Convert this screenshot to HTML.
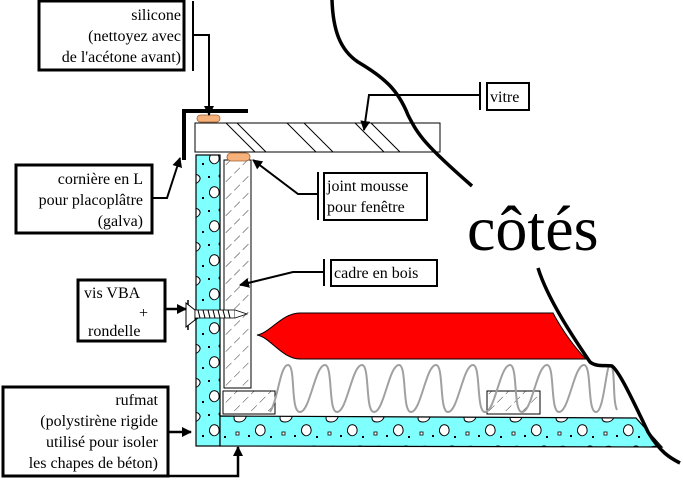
<!DOCTYPE html>
<html><head><meta charset="utf-8"><style>
html,body{margin:0;padding:0;background:#fff;}
svg{display:block;}
.t{font-family:"Times New Roman","Liberation Serif","DejaVu Serif",serif;fill:#000;}
</style></head><body>
<svg width="683" height="482" viewBox="0 0 683 482" xmlns="http://www.w3.org/2000/svg">
<defs>
<marker id="ar" markerWidth="10" markerHeight="10" refX="9" refY="5" orient="auto" markerUnits="userSpaceOnUse"><path d="M0,0 L10,5 L0,10 z" fill="#000"/></marker>
<pattern id="hatch" width="12" height="12" patternUnits="userSpaceOnUse" patternTransform="rotate(45)"><line x1="0" y1="0" x2="0" y2="12" stroke="#000" stroke-width="0.8" stroke-dasharray="5,4"/></pattern>
<pattern id="pebbles" x="0" y="0" width="46" height="34" patternUnits="userSpaceOnUse">
<rect width="46" height="34" fill="#80ffff"/>
<path d="M4,10 C4,4 12,3 15,6 C18,9 14,14 9,14 C5,14 4,12 4,10 z" fill="#fff" stroke="#000" stroke-width="1"/>
<path d="M26,20 C28,15 34,16 35,21 C36,27 30,29 28,27 C25,25 25,22 26,20 z" fill="#fff" stroke="#000" stroke-width="1"/>
<ellipse cx="38" cy="6" rx="3" ry="2" fill="#fff" stroke="#000" stroke-width="1"/>
<rect x="18" y="27" width="2" height="2" fill="#000"/><rect x="24" y="6" width="2" height="2" fill="#000"/>
<rect x="6" y="24" width="3" height="3" fill="#fff" stroke="#000" stroke-width="0.8"/>
<rect x="40" y="28" width="2" height="2" fill="#000"/>
</pattern>
</defs>

<rect x="195" y="123" width="245" height="29" fill="#fff" stroke="#000" stroke-width="1"/>
<g stroke="#000" stroke-width="1">
<line x1="226" y1="123" x2="255" y2="152"/><line x1="237" y1="123" x2="266" y2="152"/>
<line x1="287" y1="123" x2="316" y2="152"/><line x1="304" y1="123" x2="333" y2="152"/>
<line x1="355" y1="123" x2="384" y2="152"/><line x1="371" y1="123" x2="400" y2="152"/>
</g>

<rect x="196" y="155" width="24" height="291" fill="url(#pebbles)" stroke="#000" stroke-width="1.2"/>
<path d="M220,416 L636,418 L662,447 L220,446 z" fill="url(#pebbles)" stroke="#000" stroke-width="1.2"/>

<rect x="224" y="160" width="27" height="228" fill="url(#hatch)" stroke="#000" stroke-width="1"/>
<rect x="223" y="391" width="52" height="23" fill="url(#hatch)" stroke="#000" stroke-width="1"/>
<rect x="487" y="391" width="53" height="23" fill="url(#hatch)" stroke="#000" stroke-width="1"/>

<path d="M270,412 C278,400 280,365 288,365 C296,365 290,412 300,412 C310,412 315,365 325,365 C333,365 328,412 337,412 C347,412 352,365 362,365 C370,365 365,412 374,412 C384,412 389,365 399,365 C407,365 402,412 411,412 C421,412 426,365 436,365 C444,365 439,412 448,412 C458,412 463,365 473,365 C481,365 476,412 485,412 C495,412 500,365 510,365 C518,365 513,412 522,412 C532,412 537,365 547,365 C555,365 550,412 559,412 C569,412 574,365 584,365 C592,365 587,412 596,412 C604,412 606,365 610,365 C616,365 612,400 617,410" fill="none" stroke="#a0a0a0" stroke-width="2"/>

<path d="M257,335 C270,333 282,313 300,313 L553,313 C562,330 575,348 586,359 L300,359 C282,359 270,337 257,335 z" fill="#ff0000" stroke="#000" stroke-width="1"/>

<line x1="188" y1="300" x2="188" y2="330" stroke="#000" stroke-width="1.5"/>
<path d="M186,303 L195,310 L195,320 L186,327 z" fill="#fff" stroke="#000" stroke-width="1"/>
<rect x="195" y="310" width="40" height="8" fill="#fff" stroke="#000" stroke-width="0.8"/>
<path d="M235,310 L247,314 L235,318" fill="#fff" stroke="#000" stroke-width="0.8"/>
<g stroke="#000" stroke-width="1"><line x1="198" y1="310" x2="200" y2="318"/><line x1="203" y1="310" x2="205" y2="318"/><line x1="208" y1="310" x2="210" y2="318"/><line x1="213" y1="310" x2="215" y2="318"/><line x1="218" y1="310" x2="220" y2="318"/><line x1="223" y1="310" x2="225" y2="318"/><line x1="228" y1="310" x2="230" y2="318"/></g>

<rect x="197" y="115" width="23" height="7" rx="3.5" fill="#f7b27c" stroke="#a06030" stroke-width="0.8"/>
<rect x="227" y="153" width="23" height="8" rx="4" fill="#f7b27c" stroke="#a06030" stroke-width="0.8"/>

<path d="M248,111 L184,111 L184,160" fill="none" stroke="#000" stroke-width="4"/>

<path d="M332,0 C333,30 340,50 358,62 C385,78 398,90 408,115 C418,135 425,145 472,186" fill="none" stroke="#000" stroke-width="3.5"/>
<path d="M538,268 C548,300 575,340 590,362 C596,367 605,365 612,366 C620,372 635,405 648,432 C660,452 670,458 680,463" fill="none" stroke="#000" stroke-width="3.5"/>

<text class="t" x="467" y="250" font-size="64">côtés</text>

<rect x="39" y="1" width="145" height="69" fill="#fff" stroke="#000" stroke-width="3"/>
<line x1="193" y1="1" x2="193" y2="71" stroke="#000" stroke-width="2"/>
<text class="t" x="181" y="20" font-size="16" text-anchor="end">silicone</text>
<text class="t" x="181" y="41" font-size="16" text-anchor="end">(nettoyez avec</text>
<text class="t" x="181" y="62" font-size="16" text-anchor="end">de l'acétone avant)</text>
<path d="M193,35 L209,35 L209,115" fill="none" stroke="#000" stroke-width="2" marker-end="url(#ar)"/>

<rect x="16" y="165" width="136" height="68" fill="#fff" stroke="#000" stroke-width="3"/>
<text class="t" x="143" y="184" font-size="16" text-anchor="end">cornière en L</text>
<text class="t" x="143" y="205" font-size="16" text-anchor="end">pour placoplâtre</text>
<text class="t" x="143" y="226" font-size="16" text-anchor="end">(galva)</text>
<path d="M152,198 L167,198 L180,158" fill="none" stroke="#000" stroke-width="2" marker-end="url(#ar)"/>

<line x1="480" y1="82" x2="480" y2="110" stroke="#000" stroke-width="2"/>
<rect x="487" y="83" width="42" height="27" fill="#fff" stroke="#000" stroke-width="2"/>
<text class="t" x="490" y="102" font-size="16">vitre</text>
<path d="M480,95 L369,95 L364,130" fill="none" stroke="#000" stroke-width="2" marker-end="url(#ar)"/>

<line x1="318" y1="172" x2="318" y2="220" stroke="#000" stroke-width="2"/>
<rect x="324" y="173" width="103" height="47" fill="#fff" stroke="#000" stroke-width="2"/>
<text class="t" x="327" y="191" font-size="16">joint mousse</text>
<text class="t" x="327" y="212" font-size="16">pour fenêtre</text>
<path d="M318,194 L298,194 L253,160" fill="none" stroke="#000" stroke-width="2" marker-end="url(#ar)"/>

<line x1="324" y1="259" x2="324" y2="286" stroke="#000" stroke-width="2"/>
<rect x="331" y="260" width="106" height="26" fill="#fff" stroke="#000" stroke-width="2"/>
<text class="t" x="334" y="278" font-size="16">cadre en bois</text>
<path d="M324,272 L293,272 L240,285" fill="none" stroke="#000" stroke-width="2" marker-end="url(#ar)"/>

<rect x="78" y="280" width="87" height="61" fill="#fff" stroke="#000" stroke-width="3"/>
<text class="t" x="84" y="298" font-size="16">vis VBA</text>
<text class="t" x="148" y="318" font-size="16" text-anchor="end">+</text>
<text class="t" x="88" y="336" font-size="16">rondelle</text>
<path d="M165,309 L186,309" fill="none" stroke="#000" stroke-width="2.5" marker-end="url(#ar)"/>

<rect x="3" y="387" width="165" height="89" fill="#fff" stroke="#000" stroke-width="3"/>
<text class="t" x="158" y="405" font-size="16" text-anchor="end">rufmat</text>
<text class="t" x="158" y="426" font-size="16" text-anchor="end">(polystirène rigide</text>
<text class="t" x="158" y="447" font-size="16" text-anchor="end">utilisé pour isoler</text>
<text class="t" x="158" y="468" font-size="16" text-anchor="end">les chapes de béton)</text>
<path d="M168,432 L191,432" fill="none" stroke="#000" stroke-width="2.5" marker-end="url(#ar)"/>
<path d="M168,476 L238,476 L238,447" fill="none" stroke="#000" stroke-width="2.5" marker-end="url(#ar)"/>
</svg>
</body></html>
